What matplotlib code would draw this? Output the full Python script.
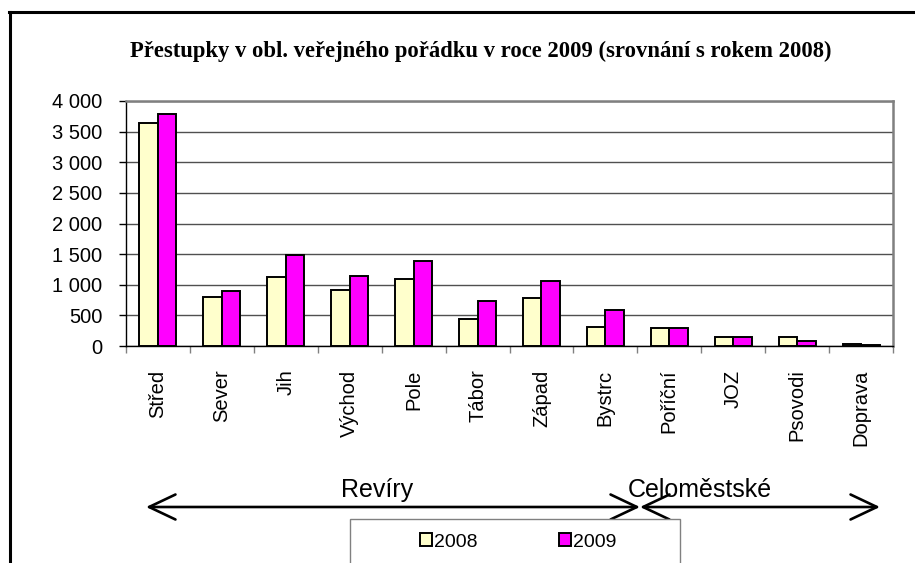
import matplotlib
matplotlib.use("Agg")
import matplotlib.pyplot as plt
import numpy as np
from matplotlib.ticker import FuncFormatter, FixedLocator
from matplotlib.patches import Rectangle, FancyArrowPatch
from matplotlib.lines import Line2D

categories = ["Střed", "Sever", "Jih", "Východ", "Pole", "Tábor", "Západ",
              "Bystrc", "Poříční", "JOZ", "Psovodi", "Doprava"]
values_2008 = [3640, 795, 1120, 915, 1090, 445, 780, 315, 300, 142, 142, 33]
values_2009 = [3790, 905, 1490, 1145, 1385, 730, 1060, 590, 290, 152, 82, 12]
series_names = ["2008", "2009"]
colors = ["#FFFFCC", "#FF00FF"]
title = "Přestupky v obl. veřejného pořádku v roce 2009 (srovnání s rokem 2008)"
group_labels = ["Revíry", "Celoměstské"]
yticks = [0, 500, 1000, 1500, 2000, 2500, 3000, 3500, 4000]

W, H = 915, 563
fig = plt.figure(figsize=(W / 100, H / 100), dpi=100)

def fx(px):
    return px / W

def fy(py):
    return 1 - py / H

ax = fig.add_axes([fx(126), fy(346), fx(893) - fx(126), fy(101) - fy(346)])

x = np.arange(len(categories))
bw = 0.29
b1 = ax.bar(x - bw / 2, values_2008, bw, color=colors[0], edgecolor="black",
            linewidth=1.4, label=series_names[0], zorder=3)
b2 = ax.bar(x + bw / 2, values_2009, bw, color=colors[1], edgecolor="black",
            linewidth=1.4, label=series_names[1], zorder=3)

ax.set_xlim(-0.5, len(categories) - 0.5)
ax.set_ylim(0, 4000)
ax.yaxis.set_major_locator(FixedLocator(yticks))
ax.yaxis.set_major_formatter(FuncFormatter(lambda v, p: f"{int(v):,}".replace(",", " ")))
ax.yaxis.grid(True, color="#505050", linewidth=1.0, zorder=0)
ax.set_axisbelow(True)

ax.set_xticks(np.arange(len(categories) + 1) - 0.5)
ax.set_xticklabels([])
ax.set_xticks(x, minor=True)
ax.set_xticklabels(categories, minor=True, rotation=90, ha="center", va="top",
                   fontfamily="Liberation Sans", fontsize=14.5)
ax.tick_params(axis="x", which="major", direction="out", length=5, color="#808080", width=1)
ax.tick_params(axis="x", which="minor", length=0, pad=17)
ax.tick_params(axis="y", direction="out", length=5, color="black", width=1, pad=12)
for lbl in ax.get_yticklabels():
    lbl.set_fontfamily("Liberation Sans")
    lbl.set_fontsize(14.5)

for s in ["top", "right"]:
    ax.spines[s].set_color("#808080")
    ax.spines[s].set_linewidth(1.8)
ax.spines["left"].set_color("black")
ax.spines["bottom"].set_color("black")
ax.spines["left"].set_linewidth(1.0)
ax.spines["bottom"].set_linewidth(1.0)

# title
fig.text(fx(481), fy(51), title, ha="center", va="center",
         fontfamily="Liberation Serif", fontweight="bold", fontsize=16.3)

# outer frame
fig.add_artist(Line2D([fx(10), fx(10)], [fy(12), 0], color="black", linewidth=2.2,
                      transform=fig.transFigure))
fig.add_artist(Line2D([fx(9), 1], [fy(12), fy(12)], color="black", linewidth=2.2,
                      transform=fig.transFigure))

# group arrows and labels
arrow_kw = dict(arrowstyle="<->,head_length=19,head_width=9", mutation_scale=1,
                color="black", linewidth=1.9, shrinkA=0, shrinkB=0,
                transform=fig.transFigure)
fig.add_artist(FancyArrowPatch((fx(146), fy(507)), (fx(640), fy(507)), **arrow_kw))
fig.add_artist(FancyArrowPatch((fx(640), fy(507)), (fx(880), fy(507)), **arrow_kw))
fig.text(fx(377), fy(490), group_labels[0], ha="center", va="center",
         fontfamily="Liberation Sans", fontsize=18)
fig.text(fx(700), fy(490), group_labels[1], ha="center", va="center",
         fontfamily="Liberation Sans", fontsize=18)

# legend box
fig.add_artist(Rectangle((fx(350), fy(580)), fx(680) - fx(350), fy(519) - fy(580),
                         facecolor="white", edgecolor="#808080", linewidth=1,
                         transform=fig.transFigure, zorder=1))
leg = fig.legend(handles=[b1, b2], labels=series_names, ncol=2, frameon=False,
                 loc="center", bbox_to_anchor=(fx(518), fy(542)),
                 prop={"family": "Liberation Sans", "size": 14},
                 handlelength=0.6, handleheight=0.6, handletextpad=0.1,
                 columnspacing=4.2, borderpad=0)
leg.set_zorder(5)

fig.savefig("out.png", dpi=100)
